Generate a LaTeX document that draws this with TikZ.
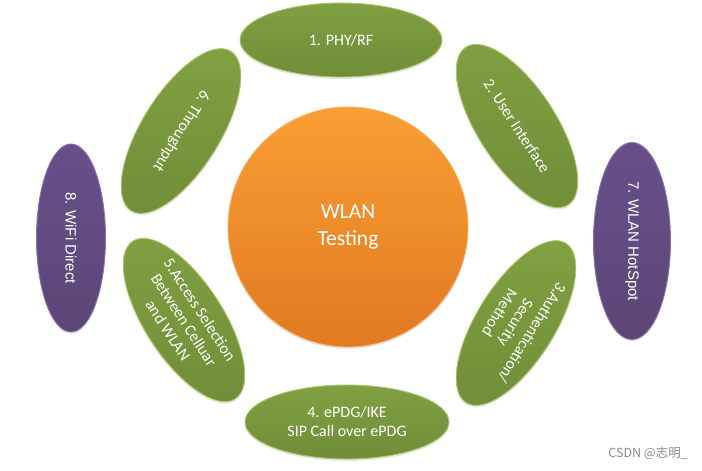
\documentclass[tikz,border=0pt]{standalone}
\usepackage{fontspec}
\setmainfont{Carlito}
\newfontfamily\arialfont{Liberation Sans}
\newfontfamily\cjkfont{Noto Sans CJK SC}
\usetikzlibrary{shapes.geometric,shadows}
\definecolor{gtop}{HTML}{80A042}
\definecolor{gbot}{HTML}{708D38}
\definecolor{gedge}{HTML}{A9C86A}
\definecolor{ptop}{HTML}{67508A}
\definecolor{pbot}{HTML}{5C4676}
\definecolor{pedge}{HTML}{8A70B0}
\definecolor{otop}{HTML}{F99E34}
\definecolor{obot}{HTML}{E17A22}
\definecolor{oedge}{HTML}{F6B36C}
\tikzset{
  greenell/.style={ellipse, inner sep=0pt, draw=gedge, line width=0.9pt,
    top color=gtop, bottom color=gbot, text=white, font=\fontsize{16}{19}\selectfont,
    align=center, drop shadow={shadow xshift=0pt, shadow yshift=-2pt, opacity=0.18}},
  purpleell/.style={ellipse, inner sep=0pt, draw=pedge, line width=0.9pt,
    top color=ptop, bottom color=pbot, text=white, font=\arialfont\fontsize{15}{18}\selectfont,
    drop shadow={shadow xshift=0pt, shadow yshift=-2pt, opacity=0.18}},
  hubcircle/.style={circle, inner sep=0pt, draw=oedge, line width=0.9pt,
    top color=otop, bottom color=obot, text=white, font=\fontsize{21.5}{27}\selectfont,
    align=center, drop shadow={shadow xshift=0pt, shadow yshift=-2pt, opacity=0.18}}
}
\begin{document}
\begin{tikzpicture}[x=1pt,y=1pt]
\useasboundingbox (0,0) rectangle (702,471);
\node[hubcircle, minimum size=240pt] (hub) at (348,244) {WLAN\\Testing};
\node[greenell, minimum width=202pt, minimum height=74pt] (e1) at (341,431) {1. PHY/RF};
\node[greenell, minimum width=188pt, minimum height=78pt, rotate=-57] (e2) at (517,345) {2. User Interface};
\node[greenell, minimum width=188pt, minimum height=78pt, rotate=-122] (e3) at (516,148) {3.Authentication/\\Security\\Method};
\node[greenell, minimum width=204pt, minimum height=74pt] (e4) at (347,49) {4. ePDG/IKE\\SIP Call over ePDG};
\node[greenell, minimum width=188pt, minimum height=78pt, rotate=-57] (e5) at (184,151) {5.Access Selection\\Between Celluar\\and WLAN};
\node[greenell, minimum width=188pt, minimum height=78pt, rotate=-122] (e6) at (181,340) {6. Throughput};
\node[purpleell, minimum width=197pt, minimum height=77pt, rotate=-90] (e7) at (632,230) {7. WLAN HotSpot};
\node[purpleell, minimum width=188pt, minimum height=69pt, rotate=-90] (e8) at (71,233) {8. WiFi Direct};
\node[text=black!45, font=\cjkfont\fontsize{12.5}{14}\selectfont, anchor=east, inner sep=0pt] (wm) at (688,18) {CSDN @志明\_};
\end{tikzpicture}
\end{document}
